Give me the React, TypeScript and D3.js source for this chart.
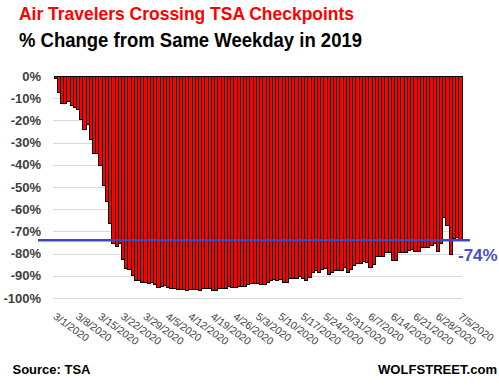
import React from "react";
import * as d3 from "d3";

const TITLE = "Air Travelers Crossing TSA Checkpoints";
const SUBTITLE = "% Change from Same Weekday in 2019";
const SOURCE = "Source: TSA";
const BRAND = "WOLFSTREET.com";

// Daily categories 3/1/2020 .. 7/5/2020
const startDate = new Date(2020, 2, 1);
const endDate = new Date(2020, 6, 6);
const days: Date[] = d3.timeDay.range(startDate, endDate);

// % change vs same weekday 2019
const pctChange: number[] = [
  -1, -7.4, -12.3, -12.3, -11.6, -13.5, -14.4, -15, -19.8, -24,
  -22, -28.6, -34.9, -34.9, -40.3, -49.2, -56.7, -66.5, -75.5, -77,
  -75.5, -82.5, -86.7, -87.3, -89.8, -92, -92.2, -92.8, -93, -93.5,
  -93.1, -93.8, -95.3, -94.7, -94.5, -95.3, -95.8, -95.8, -96.2, -96.2,
  -96.2, -96.7, -96.2, -96.2, -96.2, -96.7, -95.9, -95.8, -95.9, -96.7,
  -96.4, -95.9, -95.9, -95.6, -94.7, -95.3, -95.3, -94.9, -94.9, -94.9,
  -93.9, -93.5, -93.5, -93.5, -93.9, -93.9, -92.8, -92.3, -91.7, -92,
  -91.6, -92.8, -92.8, -91.4, -91, -91, -90.5, -91, -92.3, -90.7,
  -88.5, -87.8, -88.5, -87.3, -86.9, -89.3, -88.5, -87.4, -87.4, -87.4,
  -86.3, -88.3, -87.2, -85.3, -84.5, -84.5, -83.7, -84, -86.3, -84.7,
  -81.2, -81.2, -81.2, -79.7, -79.7, -83, -83, -79.5, -79.5, -79.5,
  -78.8, -78, -79.2, -79.2, -77.3, -77.3, -77.3, -76.2, -75.5, -79.2,
  -75.5, -63.7, -67.2, -80.4, -73.2, -72.8, -73.7,
];

const yTicks: number[] = [0, -10, -20, -30, -40, -50, -60, -70, -80, -90, -100];
const refValue = -74;
const refLabel = "-74%";

const fmtDate = d3.timeFormat("%-m/%-d/%Y");

export default function App() {
  const W = 499;
  const H = 386;
  const x = d3
    .scaleBand<number>()
    .domain(days.map((_, i) => i))
    .range([54, 462])
    .paddingInner(0)
    .paddingOuter(0);
  const y = d3.scaleLinear().domain([-100, 0]).range([298, 76]);
  const tickIdx = days.map((_, i) => i).filter((i) => i % 7 === 0);
  const bw = x.bandwidth();
  const font = "'Liberation Sans', Arial, sans-serif";

  return (
    <svg
      width={W}
      height={H}
      style={{ position: "absolute", left: 0, top: 0, background: "#fff" }}
      fontFamily={font}
    >
      <rect x={0} y={0} width={W} height={H} fill="#fff" />
      <text
        x={19}
        y={20}
        fontSize={18.5}
        fontWeight="bold"
        fill="#ff0000"
        textLength={335}
        lengthAdjust="spacingAndGlyphs"
      >
        {TITLE}
      </text>
      <text
        x={19}
        y={46.5}
        fontSize={20}
        fontWeight="bold"
        fill="#000"
        textLength={343}
        lengthAdjust="spacingAndGlyphs"
      >
        {SUBTITLE}
      </text>

      {/* gridlines */}
      {yTicks.map((t) => (
        <line
          key={"g" + t}
          x1={53}
          x2={462}
          y1={Math.round(y(t)) + 0.5}
          y2={Math.round(y(t)) + 0.5}
          stroke="#d9d9d9"
          strokeWidth={1}
        />
      ))}
      {/* y labels */}
      {yTicks.map((t) => (
        <text
          key={"yl" + t}
          x={41}
          y={y(t) + 4.5}
          textAnchor="end"
          fontSize={13}
          fontWeight="bold"
          fill="#404040"
        >
          {t + "%"}
        </text>
      ))}

      {/* bars */}
      <g shapeRendering="crispEdges">
        {pctChange.map((v, i) => (
          <rect
            key={"b" + i}
            x={x(i)!}
            y={y(0)}
            width={bw}
            height={y(v) - y(0)}
            fill="#ff0000"
            stroke="#000"
            strokeWidth={1}
          />
        ))}
      </g>

      {/* reference line */}
      <line
        x1={38}
        x2={470}
        y1={y(refValue)}
        y2={y(refValue)}
        stroke="#4048c0"
        strokeWidth={2.4}
      />
      <text
        x={458}
        y={y(refValue) + 20.5}
        fontSize={17}
        fontWeight="bold"
        fill="#4a50c8"
      >
        {refLabel}
      </text>

      {/* x labels */}
      {tickIdx.map((i) => {
        const cx = x(i)! + bw / 2;
        return (
          <text
            key={"xl" + i}
            transform={`translate(${cx - 3},${318}) rotate(36)`}
            fontSize={10.5}
            fill="#404040"
          >
            {fmtDate(days[i])}
          </text>
        );
      })}

      <text x={12.5} y={374} fontSize={13} fontWeight="bold" fill="#000">
        {SOURCE}
      </text>
      <text
        x={497}
        y={374}
        fontSize={13}
        fontWeight="bold"
        fill="#000"
        textAnchor="end"
        textLength={119}
        lengthAdjust="spacingAndGlyphs"
      >
        {BRAND}
      </text>
    </svg>
  );
}
